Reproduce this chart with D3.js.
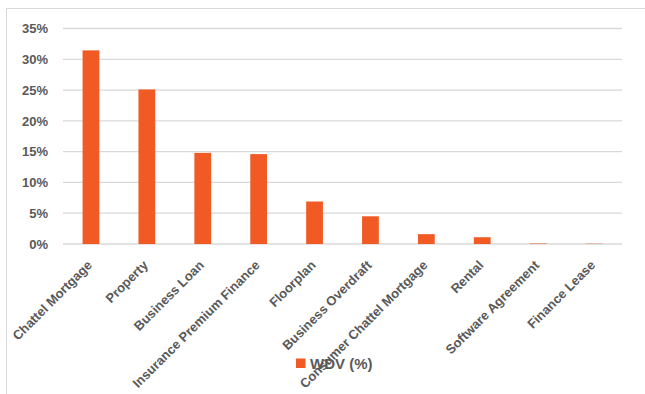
<!DOCTYPE html>
<html>
<head>
<meta charset="utf-8">
<script src="https://cdn.jsdelivr.net/npm/d3@7/dist/d3.min.js"></script>
<style>
html,body{margin:0;padding:0;background:#fff;}
svg{display:block;}
text{font-family:"Liberation Sans",Arial,sans-serif;font-weight:bold;fill:#595959;}
</style>
</head>
<body>
<svg id="chart" width="645" height="394"></svg>
<script>
const categories = ["Chattel Mortgage","Property","Business Loan","Insurance Premium Finance","Floorplan","Business Overdraft","Consumer Chattel Mortgage","Rental","Software Agreement","Finance Lease"];
const wdv = [0.3145, 0.251, 0.148, 0.146, 0.069, 0.045, 0.016, 0.011, 0.0008, 0.0005];
const yTicks = [0, 0.05, 0.10, 0.15, 0.20, 0.25, 0.30, 0.35];
const seriesName = "WDV (%)";

const svg = d3.select("#chart");
const W = 645, H = 394;
const m = {left: 63, right: 23, top: 28.5, bottom: 150};
const plotW = W - m.left - m.right, plotH = H - m.top - m.bottom;

// chart border
svg.append("rect").attr("x", 6.5).attr("y", 8.5).attr("width", 700).attr("height", 500)
  .attr("fill", "none").attr("stroke", "#d9d9d9").attr("stroke-width", 1);

const x = d3.scaleBand().domain(categories).range([m.left, m.left + plotW]).padding(0);
const y = d3.scaleLinear().domain([0, 0.35]).range([m.top + plotH, m.top]);

// gridlines
svg.append("g").selectAll("line").data(yTicks).join("line")
  .attr("x1", m.left).attr("x2", m.left + plotW)
  .attr("y1", d => y(d)).attr("y2", d => y(d))
  .attr("stroke", "#d9d9d9").attr("stroke-width", 1.3);

// y axis labels
const yAxis = d3.axisLeft(y).tickValues(yTicks).tickFormat(d3.format(".0%")).tickSize(0).tickPadding(15);
const gy = svg.append("g").attr("transform", `translate(${m.left},0)`).call(yAxis);
gy.select(".domain").remove();
gy.selectAll("text").attr("font-size", 13).style("font-family", '"Liberation Sans",Arial,sans-serif').style("font-weight","bold").attr("fill", "#595959");

// bars
const barW = x.bandwidth() * 0.3;
svg.append("g").selectAll("rect").data(categories).join("rect")
  .attr("x", (d) => x(d) + (x.bandwidth() - barW) / 2)
  .attr("width", barW)
  .attr("y", (d, i) => y(wdv[i]))
  .attr("height", (d, i) => y(0) - y(wdv[i]))
  .attr("fill", "#f15a24");

// x labels
svg.append("g").selectAll("text").data(categories).join("text")
  .attr("transform", d => `translate(${x(d) + x.bandwidth() / 2 + 2},266) rotate(-45)`)
  .attr("text-anchor", "end")
  .attr("font-size", 13)
  .text(d => d);

// legend
const lg = svg.append("g");
lg.append("rect").attr("x", 296).attr("y", 358.5).attr("width", 9.5).attr("height", 9.5).attr("fill", "#f15a24");
lg.append("text").attr("x", 310).attr("y", 368.5).attr("font-size", 15).text(seriesName);
</script>
</body>
</html>
